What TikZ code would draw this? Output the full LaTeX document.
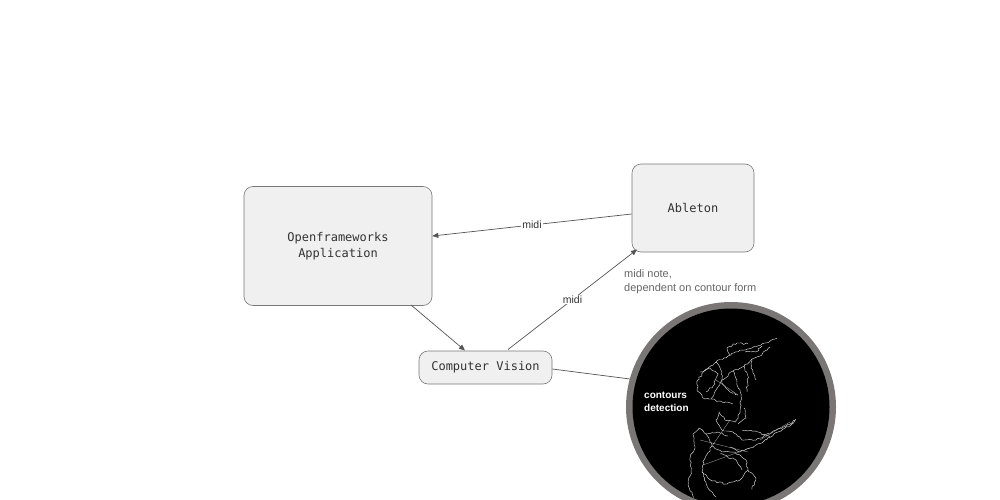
\documentclass[tikz,border=0pt]{standalone}
\usepackage{fontspec}
\setmainfont{Liberation Sans}
\newfontfamily\monofont{DejaVu Sans Mono}
\usetikzlibrary{arrows.meta,decorations.pathmorphing}
\definecolor{boxfill}{HTML}{F0F0F0}
\definecolor{boxline}{HTML}{777777}
\definecolor{linec}{HTML}{555555}
\definecolor{ringc}{HTML}{7A7676}
\begin{document}
\begin{tikzpicture}[x=1pt,y=-1pt,
  box/.style={draw=boxline,fill=boxfill,rounded corners=9pt,line width=0.6pt,
    font=\monofont\fontsize{12}{15.5}\selectfont,text=black!80,align=center,inner sep=0pt},
  conn/.style={draw=linec,line width=0.7pt},
  arr/.style={conn,-{Triangle[length=6pt,width=5pt]}},
  lbl/.style={fill=white,inner sep=1pt,font=\fontsize{10.5}{12}\selectfont,text=black!80},
  note/.style={font=\fontsize{11}{14}\selectfont,text=black!60,align=left,inner sep=0pt},
  contour/.style={draw=white!85!black,line width=0.45pt,decorate,
    decoration={random steps,segment length=2.2pt,amplitude=0.9pt}}]
\useasboundingbox (0,0) rectangle (1000,500);
\fill[white] (0,0) rectangle (1000,500);

\node[box,minimum width=188pt,minimum height=119pt] (of) at (338,246) {Openframeworks\\Application};
\node[box,minimum width=122pt,minimum height=88pt] (ab) at (693,208) {Ableton};
\node[box,minimum width=133pt,minimum height=33pt] (cv) at (485.5,367.5) {Computer Vision};

% circle
\coordinate (cc) at (731,407);
\fill[ringc] (cc) circle (105);
\fill[black] (cc) circle (98.5);
\node[circle,minimum size=210pt,inner sep=0pt] (circ) at (cc) {};
\begin{scope}
\clip (cc) circle (98);
\pgfmathsetseed{7}
\draw[contour] (777,338) -- (765,343) -- (752,348) -- (740,350) -- (728,356) -- (716,362) -- (705,370) -- (698,380) -- (697,390) -- (703,398) -- (711,399) -- (716,390) -- (722,380) -- (733,371) -- (744,366) -- (752,359) -- (760,356) -- (770,347);
\draw[contour] (716,362) -- (722,372) -- (722,383);
\draw[contour] (733,371) -- (737,382) -- (741,396) -- (740,410) -- (736,422);
\draw[contour] (744,366) -- (748,376) -- (747,392);
\draw[contour] (752,359) -- (751,368) -- (756,380);
\draw[contour] (711,399) -- (722,402) -- (733,404);
\draw[contour] (722,383) -- (730,392) -- (738,395);
\draw[contour] (730,355) -- (727,348) -- (737,343) -- (748,344);
\draw[contour] (700,372) -- (710,368) -- (718,374) -- (713,386) -- (706,392);
\draw[contour] (745,352) -- (756,352) -- (762,346);
\draw[contour] (736,422) -- (725,420) -- (719,412) -- (716,420) -- (722,430) -- (733,432) -- (742,440) -- (756,440) -- (772,432) -- (786,426) -- (796,419) -- (792,424) -- (778,432) -- (764,441) -- (750,448) -- (740,452) -- (730,447);
\draw[contour] (742,430) -- (758,432) -- (770,437);
\draw[contour] (738,424) -- (746,418) -- (744,408);
\draw[contour] (728,436) -- (718,432) -- (706,434) -- (699,428) -- (693,434) -- (695,446) -- (690,458) -- (691,472) -- (688,484) -- (693,496) -- (698,505);
\draw[contour] (706,434) -- (712,446) -- (722,452) -- (735,452) -- (746,460) -- (748,470) -- (740,480) -- (726,484) -- (712,481) -- (702,472) -- (704,460) -- (712,446);
\draw[contour] (720,454) -- (736,460) -- (742,470);
\draw[contour] (702,472) -- (708,488) -- (716,497);
\draw[contour] (748,470) -- (756,478) -- (752,490);
\draw[draw=gray!60,line width=0.3pt] (700,440) -- (748,452) (703,465) -- (750,448) (712,446) -- (730,420) (716,380) -- (738,395) (760,440) -- (790,422);
\end{scope}
\node[font=\bfseries\fontsize{10}{13}\selectfont,text=white,align=left,anchor=north west,inner sep=0pt] (cd) at (644,392) {contours\\detection};

% connectors
\draw[arr] (ab.west |- 0,214) -- node[lbl] {midi} (of.east |- 0,236);
\draw[arr] (411,305) -- (465,350.5);
\draw[arr] (508,349.5) -- node[lbl,pos=0.5] {midi} (637,249.5);
\draw[conn] (cv.east |- 0,369) -- (630,379);

\node[note,anchor=north west] (nt) at (624,269.5) {midi note,\\dependent on contour form};
\end{tikzpicture}
\end{document}
